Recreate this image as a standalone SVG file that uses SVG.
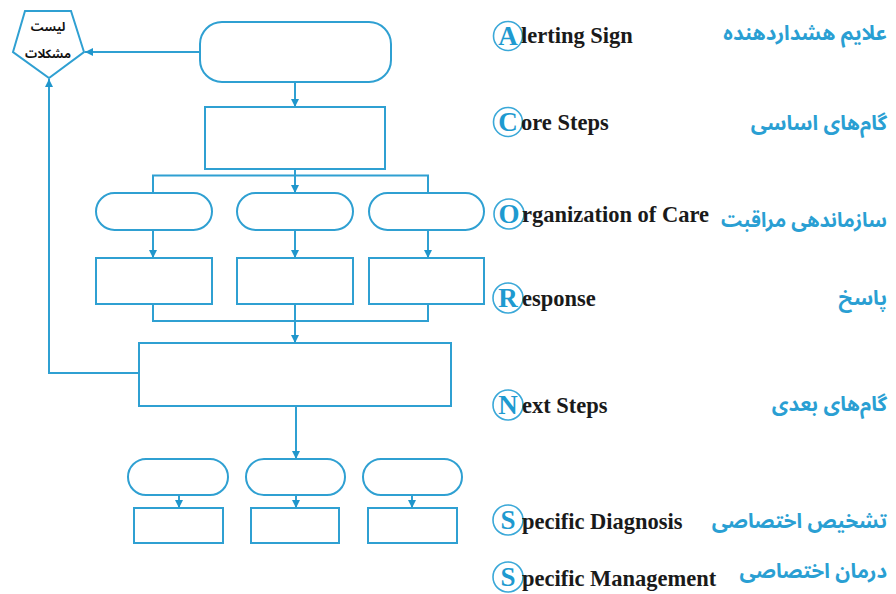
<svg xmlns="http://www.w3.org/2000/svg" width="896" height="594" viewBox="0 0 896 594">
<style>
.n{fill:#fff;stroke:#2fa0d2;stroke-width:2}
.c{fill:none;stroke:#2fa0d2;stroke-width:2}
.en{font-family:"Liberation Serif",serif;font-weight:bold;font-size:22.5px;fill:#1a1a1a}
.lt{font-family:"Liberation Serif",serif;font-weight:bold;font-size:27px;fill:#1e9ad0}
.ring{fill:#fff;stroke:#3aa8d8;stroke-width:1.6}
.fa{font-family:"Noto Sans Arabic","DejaVu Sans",sans-serif;font-weight:bold;font-size:20.5px;fill:#2a9fd3}
.pt{font-family:"Noto Sans Arabic","DejaVu Sans",sans-serif;font-weight:bold;font-size:12px;fill:#111}
</style>
<defs>
<marker id="ah" markerWidth="8" markerHeight="8" refX="8" refY="4" orient="auto" markerUnits="userSpaceOnUse">
<path d="M0,0 L8,4 L0,8 Z" fill="#2096cc"/>
</marker>
</defs>
<rect width="896" height="594" fill="#fff"/>
<g id="connectors">
<path class="c" d="M200,52 H85" marker-end="url(#ah)"/>
<path class="c" d="M295,82 V107" marker-end="url(#ah)"/>
<path class="c" d="M295,169 V193" marker-end="url(#ah)"/>
<path class="c" d="M153,193 V175.5 H428 V193"/>
<path class="c" d="M153,230 V258" marker-end="url(#ah)"/>
<path class="c" d="M295,230 V258" marker-end="url(#ah)"/>
<path class="c" d="M428,230 V258" marker-end="url(#ah)"/>
<path class="c" d="M153,304 V321 H428 V304"/>
<path class="c" d="M295,304 V343" marker-end="url(#ah)"/>
<path class="c" d="M139,373 H49 V79" marker-end="url(#ah)"/>
<path class="c" d="M296,406 V459" marker-end="url(#ah)"/>
<path class="c" d="M179,495 V508" marker-end="url(#ah)"/>
<path class="c" d="M296,495 V508" marker-end="url(#ah)"/>
<path class="c" d="M412,495 V508" marker-end="url(#ah)"/>
</g>
<g id="problems">
<polygon class="n" points="25,11 71,11 84,52 49,78 13,52"/>
<text class="pt" x="48" y="31" text-anchor="middle">لیست</text>
<text class="pt" x="48" y="58" text-anchor="middle">مشکلات</text>
</g>
<g id="alert"><rect class="n" x="200" y="22" width="191" height="60" rx="22"/></g>
<g id="core"><rect class="n" x="205" y="107" width="180" height="62"/></g>
<g id="org1"><rect class="n" x="96" y="193" width="116" height="37" rx="18.5"/></g>
<g id="org2"><rect class="n" x="237" y="193" width="116" height="37" rx="18.5"/></g>
<g id="org3"><rect class="n" x="369" y="193" width="115" height="37" rx="18.5"/></g>
<g id="resp1"><rect class="n" x="96" y="258" width="116" height="46"/></g>
<g id="resp2"><rect class="n" x="237" y="258" width="116" height="46"/></g>
<g id="resp3"><rect class="n" x="369" y="258" width="115" height="46"/></g>
<g id="next"><rect class="n" x="139" y="343" width="312" height="63"/></g>
<g id="diag1"><rect class="n" x="128" y="459" width="100" height="36" rx="18"/></g>
<g id="diag2"><rect class="n" x="246" y="459" width="99" height="36" rx="18"/></g>
<g id="diag3"><rect class="n" x="363" y="459" width="99" height="36" rx="18"/></g>
<g id="mgmt1"><rect class="n" x="134" y="508" width="89" height="35"/></g>
<g id="mgmt2"><rect class="n" x="251" y="508" width="88" height="35"/></g>
<g id="mgmt3"><rect class="n" x="368" y="508" width="89" height="35"/></g>
<g id="legend">
<circle class="ring" cx="508" cy="36" r="14.5"/><text class="lt" x="508" y="45" text-anchor="middle">A</text>
<text class="en" x="521" y="43">lerting Sign</text>
<text class="fa" x="887" y="40" text-anchor="end">علایم هشداردهنده</text>
<circle class="ring" cx="508" cy="122" r="14.5"/><text class="lt" x="508" y="131" text-anchor="middle">C</text>
<text class="en" x="521" y="130">ore Steps</text>
<text class="fa" x="887" y="130" text-anchor="end">گام‌های اساسی</text>
<circle class="ring" cx="509" cy="214" r="15"/><text class="lt" x="509" y="223" text-anchor="middle">O</text>
<text class="en" x="522" y="222">rganization of Care</text>
<text class="fa" x="887" y="227" text-anchor="end" textLength="166" lengthAdjust="spacingAndGlyphs">سازماندهی مراقبت</text>
<circle class="ring" cx="508" cy="298" r="15"/><text class="lt" x="508" y="307" text-anchor="middle">R</text>
<text class="en" x="522" y="306">esponse</text>
<text class="fa" x="887" y="305" text-anchor="end">پاسخ</text>
<circle class="ring" cx="508" cy="405" r="15"/><text class="lt" x="508" y="414" text-anchor="middle">N</text>
<text class="en" x="522" y="413">ext Steps</text>
<text class="fa" x="887" y="411" text-anchor="end">گام‌های بعدی</text>
<circle class="ring" cx="508" cy="520" r="15"/><text class="lt" x="508" y="529" text-anchor="middle">S</text>
<text class="en" x="522" y="529">pecific Diagnosis</text>
<text class="fa" x="887" y="528" text-anchor="end">تشخیص اختصاصی</text>
<circle class="ring" cx="508" cy="577" r="15"/><text class="lt" x="508" y="586" text-anchor="middle">S</text>
<text class="en" x="522" y="586">pecific Management</text>
<text class="fa" x="887" y="578" text-anchor="end" font-size="20">درمان اختصاصی</text>
</g>
</svg>
